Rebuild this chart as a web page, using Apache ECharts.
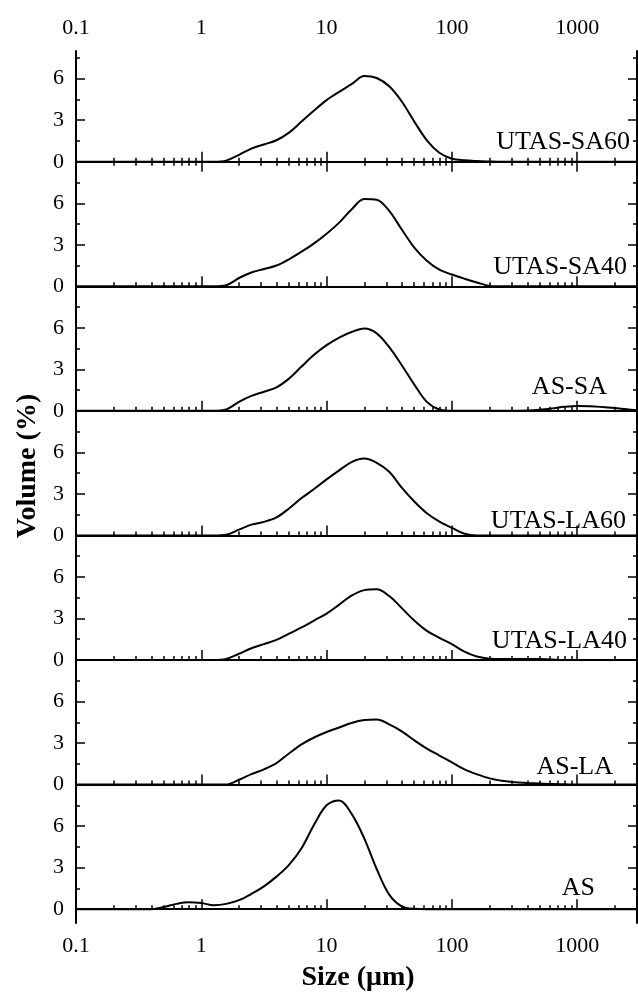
<!DOCTYPE html>
<html>
<head>
<meta charset="utf-8">
<script src="https://cdn.jsdelivr.net/npm/echarts@6/dist/echarts.min.js"></script>
<style>
html, body { margin: 0; padding: 0; background: #fff; }
#main { width: 638px; height: 994px; }
</style>
</head>
<body>
<div id="main"></div>
<script>
// sample names, top to bottom
var names = ['UTAS-SA60', 'UTAS-SA40', 'AS-SA', 'UTAS-LA60', 'UTAS-LA40', 'AS-LA', 'AS']

// size classes (um), 10 per decade
var sizes = [0.1, 0.126, 0.158, 0.2, 0.251, 0.316, 0.398, 0.501, 0.631, 0.794,
  1, 1.26, 1.58, 2, 2.51, 3.16, 3.98, 5.01, 6.31, 7.94,
  10, 12.6, 15.8, 20, 25.1, 31.6, 39.8, 50.1, 63.1, 79.4,
  100, 126, 158, 200, 251, 316, 398, 501, 631, 794,
  1000, 1260, 1580, 2000, 2510, 3000]

// volume (%) for each size class
var sa60Vol = [0, 0, 0, 0, 0, 0, 0, 0, 0, 0,
  0, 0, 0.08, 0.5, 0.95, 1.25, 1.55, 2.1, 2.9, 3.7,
  4.45, 5.05, 5.6, 6.2, 6.05, 5.45, 4.35, 2.9, 1.55, 0.65,
  0.22, 0.1, 0.05, 0.02, 0, 0, 0, 0, 0, 0,
  0, 0, 0, 0, 0, 0]

var sa40Vol = [0, 0, 0, 0, 0, 0, 0, 0, 0, 0,
  0, 0, 0.08, 0.6, 1.0, 1.25, 1.5, 1.95, 2.5, 3.1,
  3.8, 4.6, 5.55, 6.3, 6.25, 5.45, 4.1, 2.8, 1.85, 1.2,
  0.85, 0.55, 0.28, 0.03, 0, 0, 0, 0, 0, 0,
  0, 0, 0, 0, 0, 0]

var asSaVol = [0, 0, 0, 0, 0, 0, 0, 0, 0, 0,
  0, 0, 0.1, 0.65, 1.08, 1.38, 1.7, 2.33, 3.2, 4.05,
  4.75, 5.3, 5.7, 5.95, 5.6, 4.6, 3.3, 1.9, 0.65, 0.1,
  0, 0, 0, 0, 0, 0, 0.02, 0.08, 0.18, 0.3,
  0.36, 0.34, 0.28, 0.2, 0.11, 0.05]

var la60Vol = [0, 0, 0, 0, 0, 0, 0, 0, 0, 0,
  0, 0, 0.05, 0.42, 0.78, 0.98, 1.3, 1.95, 2.7, 3.35,
  4.05, 4.7, 5.3, 5.55, 5.25, 4.6, 3.45, 2.45, 1.6, 1.0,
  0.55, 0.12, 0, 0, 0, 0, 0, 0, 0, 0,
  0, 0, 0, 0, 0, 0]

var la40Vol = [0, 0, 0, 0, 0, 0, 0, 0, 0, 0,
  0, 0, 0.08, 0.45, 0.85, 1.15, 1.45, 1.9, 2.35, 2.85,
  3.35, 4.0, 4.65, 5.05, 5.12, 4.62, 3.75, 2.85, 2.1, 1.6,
  1.15, 0.6, 0.25, 0.1, 0.08, 0.08, 0.08, 0.07, 0.03, 0,
  0, 0, 0, 0, 0, 0]

var asLaVol = [0, 0, 0, 0, 0, 0, 0, 0, 0, 0,
  0, 0, 0, 0.35, 0.75, 1.1, 1.55, 2.25, 2.9, 3.4,
  3.8, 4.12, 4.45, 4.66, 4.7, 4.35, 3.85, 3.2, 2.6, 2.1,
  1.6, 1.1, 0.75, 0.45, 0.28, 0.17, 0.12, 0.08, 0.04, 0.02,
  0, 0, 0, 0, 0, 0]

var asVol = [0, 0, 0, 0, 0, 0, 0, 0.15, 0.38, 0.5,
  0.44, 0.28, 0.38, 0.65, 1.1, 1.65, 2.35, 3.2, 4.4, 6.1,
  7.5, 7.85, 6.9, 5.1, 2.9, 1.05, 0.2, 0.02, 0, 0,
  0, 0, 0, 0, 0, 0, 0, 0, 0, 0,
  0, 0, 0, 0, 0, 0]

var vols = [sa60Vol, sa40Vol, asSaVol, la60Vol, la40Vol, asLaVol, asVol]

// tick values
var xMajor = [0.1, 1, 10, 100, 1000]
var xMinor = [0.2, 0.3, 0.4, 0.5, 0.6, 0.7, 0.8, 0.9,
  2, 3, 4, 5, 6, 7, 8, 9,
  20, 30, 40, 50, 60, 70, 80, 90,
  200, 300, 400, 500, 600, 700, 800, 900,
  2000]
var yMajor = [0, 3, 6]
var yMinor = [1.5, 4.5, 7.5]

// where the sample names sit [right x, middle y]
var labelPos = [[630, 142], [627, 267], [607, 387], [626, 521], [627, 641], [613, 767], [595, 888]]

var serif = "'Liberation Serif', 'Times New Roman', serif"
var panelTop = 51
var panelH = 124.57

var grids = []
var xAxes = []
var yAxes = []
var series = []
var texts = []

function xAxisDef (i, pos, ticks, len, withLine, labels) {
  return {
    type: 'log', gridIndex: i, position: pos, min: 0.1, max: 3000, logBase: 10,
    axisLine: { show: withLine, lineStyle: { color: '#000', width: 2 } },
    axisTick: { show: true, inside: true, length: len, customValues: ticks, lineStyle: { color: '#000', width: 1.5 } },
    axisLabel: labels ? {
      show: true, customValues: xMajor, margin: 12, color: '#000', fontSize: 22, fontFamily: serif,
      formatter: function (v) { return String(v) }
    } : { show: false },
    splitLine: { show: false },
    minorTick: { show: false }
  }
}

function yAxisDef (i, pos, ticks, len, withLine, labels) {
  return {
    type: 'value', gridIndex: i, position: pos, min: -1, max: 8,
    axisLine: { show: withLine, onZero: false, lineStyle: { color: '#000', width: 2 } },
    axisTick: { show: true, inside: true, length: len, customValues: ticks, lineStyle: { color: '#000', width: 1.5 } },
    axisLabel: labels ? {
      show: true, customValues: yMajor, margin: 12, color: '#000', fontSize: 22, fontFamily: serif
    } : { show: false },
    splitLine: { show: false }
  }
}

for (var i = 0; i < 7; i++) {
  grids.push({ left: 76, right: 1, top: panelTop + panelH * i, height: panelH })
  var last = (i === 6)
  xAxes.push(xAxisDef(i, 'bottom', xMajor, 10, true, last))
  xAxes.push(xAxisDef(i, 'bottom', xMinor, 4, false, false))
  yAxes.push(yAxisDef(i, 'left', yMajor, 9, true, true))
  yAxes.push(yAxisDef(i, 'left', yMinor, 4, false, false))
  yAxes.push(yAxisDef(i, 'right', yMajor, 9, true, false))
  yAxes.push(yAxisDef(i, 'right', yMinor, 4, false, false))

  var pts = []
  for (var j = 0; j < sizes.length; j++) {
    pts.push([sizes[j], vols[i][j]])
  }
  series.push({
    name: names[i], type: 'line', xAxisIndex: 2 * i, yAxisIndex: 4 * i,
    data: pts, smooth: 0.35, showSymbol: false, symbol: 'none',
    lineStyle: { color: '#000', width: 2 }
  })

  texts.push({
    type: 'text', x: labelPos[i][0], y: labelPos[i][1],
    style: { text: names[i], fill: '#000', font: '26px ' + serif, textAlign: 'right', textVerticalAlign: 'middle' }
  })
}

// top frame of the first panel
xAxes.push(xAxisDef(0, 'top', xMajor, 10, true, true))
xAxes.push(xAxisDef(0, 'top', xMinor, 4, false, false))

texts.push({
  type: 'text', x: 28, y: 466, rotation: Math.PI / 2,
  style: { text: 'Volume (%)', fill: '#000', font: 'bold 28px ' + serif, textAlign: 'center', textVerticalAlign: 'middle' }
})
texts.push({
  type: 'text', x: 358, y: 978,
  style: { text: 'Size (μm)', fill: '#000', font: 'bold 28px ' + serif, textAlign: 'center', textVerticalAlign: 'middle' }
})

var chart = echarts.init(document.getElementById('main'))

var option = {
  animation: false,
  backgroundColor: '#fff',
  grid: grids,
  xAxis: xAxes,
  yAxis: yAxes,
  series: series,
  graphic: texts
}

chart.setOption(option)
</script>
</body>
</html>
